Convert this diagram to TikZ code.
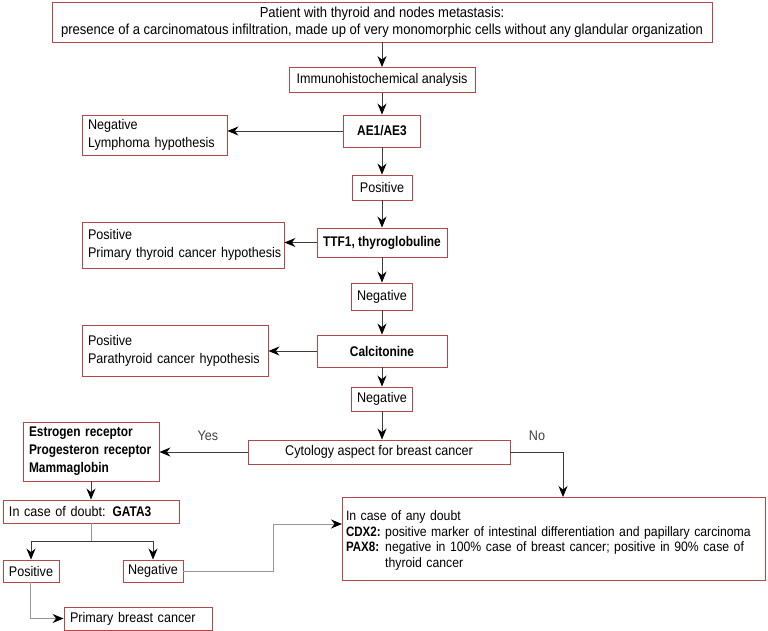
\documentclass[tikz,border=0pt]{standalone}
\usepackage{fontspec}
\setmainfont[FakeStretch=0.9]{Liberation Sans}
\newfontfamily\medfont[FakeStretch=0.85]{Liberation Sans}
\usetikzlibrary{arrows.meta}
\definecolor{boxred}{RGB}{180,72,72}
\definecolor{linedark}{RGB}{60,60,60}
\definecolor{linelight}{RGB}{150,150,150}
\newcommand{\bm}[1]{{\medfont\bfseries #1}}
\begin{document}
\begin{tikzpicture}[x=1pt,y=-1pt,
  box/.style={draw=boxred, line width=0.9pt, inner xsep=6pt, inner ysep=0pt,
    font=\fontsize{14}{18}\selectfont},
  bbox/.style={box, font=\fontsize{14}{18}\selectfont\medfont\bfseries},
  arr/.style={draw=linedark, line width=0.9pt, -{Stealth[length=11pt,width=9pt,black]}},
  arrl/.style={draw=linelight, line width=1pt, -{Stealth[length=11pt,width=9pt,black]}},
  lnl/.style={draw=linelight, line width=1pt},
  lbl/.style={font=\fontsize{14}{18}\selectfont, text=black!75}
]
\useasboundingbox (0,0) rectangle (768,631);

\node[box, minimum width=660, minimum height=40, align=center, font=\fontsize{14.5}{17}\selectfont] (top) at (382,22)
  {Patient with thyroid and nodes metastasis:\\presence of a carcinomatous infiltration, made up of very monomorphic cells without any glandular organization};
\node[box, minimum width=186, minimum height=25] (imm) at (382,80) {Immunohistochemical analysis};
\node[bbox, minimum width=77, minimum height=32] (ae) at (382,131) {AE1/AE3};
\node[box, minimum width=145, minimum height=40, text width=133, align=left] (lym) at (154.5,135) {\mbox{Negative}\\\mbox{Lymphoma hypothesis}};
\node[box, minimum width=60, minimum height=25] (pos1) at (382,187.5) {Positive};
\node[bbox, minimum width=130, minimum height=29] (ttf) at (382,242.5) {TTF1, thyroglobuline};
\node[box, minimum width=202, minimum height=46, text width=190, align=left] (pth) at (183,245) {\mbox{Positive}\\\mbox{Primary thyroid cancer hypothesis}};
\node[box, minimum width=60, minimum height=27] (neg1) at (382,296.5) {Negative};
\node[bbox, minimum width=130, minimum height=32] (cal) at (382,351) {Calcitonine};
\node[box, minimum width=186, minimum height=51, text width=174, align=left] (par) at (175,350.5) {\mbox{Positive}\\\mbox{Parathyroid cancer hypothesis}};
\node[box, minimum width=60, minimum height=24] (neg2) at (382,399) {Negative};
\node[box, minimum width=262, minimum height=24] (cyt) at (379,452) {Cytology aspect for breast cancer};
\node[bbox, minimum width=136, minimum height=59, text width=124, align=left] (est) at (91,451.5) {\mbox{Estrogen receptor}\\\mbox{Progesteron receptor}\\\mbox{Mammaglobin}};
\node[box, minimum width=176, minimum height=23, text width=164, align=left] (gat) at (91,511.5) {\mbox{In case of doubt: \bm{GATA3}}};
\node[box, minimum width=56, minimum height=22, inner xsep=2pt] (posb) at (31,571) {Positive};
\node[box, minimum width=60, minimum height=22, inner xsep=2pt] (negb) at (153,571) {Negative};
\node[box, minimum width=148, minimum height=23, text width=136, align=left] (prb) at (138,618.5) {\mbox{Primary breast cancer}};
\node[box, draw=none, minimum width=423, minimum height=83, text width=415, inner xsep=4pt, align=left, font=\fontsize{13.6}{17}\selectfont] (big) at (553.5,540.5)
  {\begin{tabular}{@{}l@{\ }l@{}}
   \multicolumn{2}{@{}l@{}}{In case of any doubt}\\[-1.5pt]
   \bm{CDX2:} & positive marker of intestinal differentiation and papillary carcinoma\\[-1.5pt]
   \bm{PAX8:} & negative in 100\% case of breast cancer; positive in 90\% case of\\[-1.5pt]
   & thyroid cancer
   \end{tabular}};
\draw[draw=boxred, line width=0.9pt] (342,497) rectangle (765,580);

\node[lbl] (yes) at (208,436) {Yes};
\node[lbl] (no) at (537,436) {No};

\draw[arr] (top) -- (imm);
\draw[arr] (imm) -- (ae);
\draw[arr] (ae) -- (lym.east |- ae);
\draw[arr] (ae) -- (pos1);
\draw[arr] (pos1) -- (ttf);
\draw[arr] (ttf) -- (pth.east |- ttf);
\draw[arr] (ttf) -- (neg1);
\draw[arr] (neg1) -- (cal);
\draw[arr] (cal) -- (par.east |- cal);
\draw[arr] (cal) -- (neg2);
\draw[arr] (neg2.south) -- (neg2.south |- cyt.north);
\draw[arr] (cyt.west) -- (est.east |- cyt.west);
\coordinate (nocorner) at (563,452);
\draw[arr] (cyt.east) -- (nocorner) -- (563,497);
\draw[arr] (est) -- (gat);
\coordinate (br) at (91,541);
\draw[lnl] (gat.south) -- (br);
\draw[arr] (br) -| (posb.north);
\draw[arr] (br) -| (negb.north);
\coordinate (pc) at (30,618.5);
\draw[arrl] (posb.south -| pc) -- (pc) -- (prb.west);
\coordinate (nc) at (273,571);
\draw[arrl] (negb.east) -- (nc) -- (273,524) -- (342,524);
\end{tikzpicture}
\end{document}
